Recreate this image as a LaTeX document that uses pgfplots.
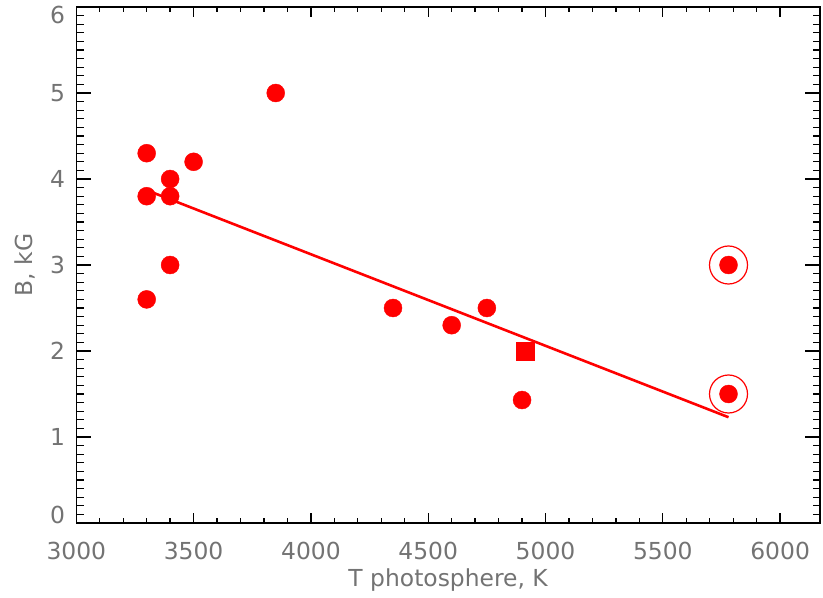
\documentclass[border=0pt]{standalone}
\usepackage{fontspec}
\setmainfont{DejaVu Sans}
\usepackage{pgfplots}
\pgfplotsset{compat=1.18}
\definecolor{lbl}{gray}{0.45}

\pgfplotsset{
  frame/.style={
    scale only axis, width=743.7bp, height=516bp,
    xmin=3000, xmax=6170, ymin=0, ymax=6,
    clip=false,
    axis line style={line width=1.3bp, black},
    tick style={line width=1.3bp, black},
    tick align=inside,
    every tick label/.append style={font=\fontsize{23.5}{28}\selectfont, text=lbl, inner sep=0pt},
    label style={font=\fontsize{23.5}{28}\selectfont, text=lbl, inner sep=0pt},
  }
}

\begin{document}
\begin{tikzpicture}
% y axis: ticks and label
\begin{axis}[frame,
  xtick=\empty,
  ytick={0,1,2,3,4,5,6},
  yticklabels={\raisebox{0bp}[0pt][0pt]{0},1,2,3,4,5,\raisebox{-17bp}[0pt][0pt]{6}},
  minor y tick num=9,
  major tick length=15bp, minor tick length=7.5bp,
  yticklabel style={xshift=-11bp},
  ylabel={B, kG},
  ylabel style={at={(axis description cs:-0.0592,0.5)}, anchor=base},
]
\addplot[draw=none] coordinates {(3000,0)};
\end{axis}
% x axis, fit and measurements
\begin{axis}[frame,
  ytick=\empty,
  xtick={3000,3500,4000,4500,5000,5500,6000},
  xticklabels={3000,3500,4000,4500,5000,5500,6000},
  minor x tick num=4,
  major tick length=10bp, minor tick length=5bp,
  xticklabel style={yshift=-19bp},
  xlabel={T photosphere, K},
  xlabel style={at={(axis description cs:0.5,-0.124)}, anchor=base},
]
% linear fit
\addplot[red, line width=2.6bp] coordinates {(3300,3.87) (5780,1.23)};
% field strengths
\addplot[only marks, mark=*, mark size=9bp, red] coordinates {
  (3300,4.3) (3300,3.8) (3300,2.6)
  (3400,4.0) (3400,3.8) (3400,3.0)
  (3500,4.2) (3850,5.0)
  (4350,2.5) (4600,2.3) (4750,2.5)
  (4900,1.43)
  (5780,3.0) (5780,1.5)
};
\addplot[only marks, mark=square*, mark size=9bp, red] coordinates {(4915,2.0)};
\addplot[only marks, mark=o, mark size=19bp, red, mark options={line width=1.2bp}] coordinates {(5780,3.0) (5780,1.5)};
\end{axis}
\pgfresetboundingbox
\useasboundingbox (-76.3bp,-75bp) rectangle (746.7bp,523bp);
\end{tikzpicture}
\end{document}
